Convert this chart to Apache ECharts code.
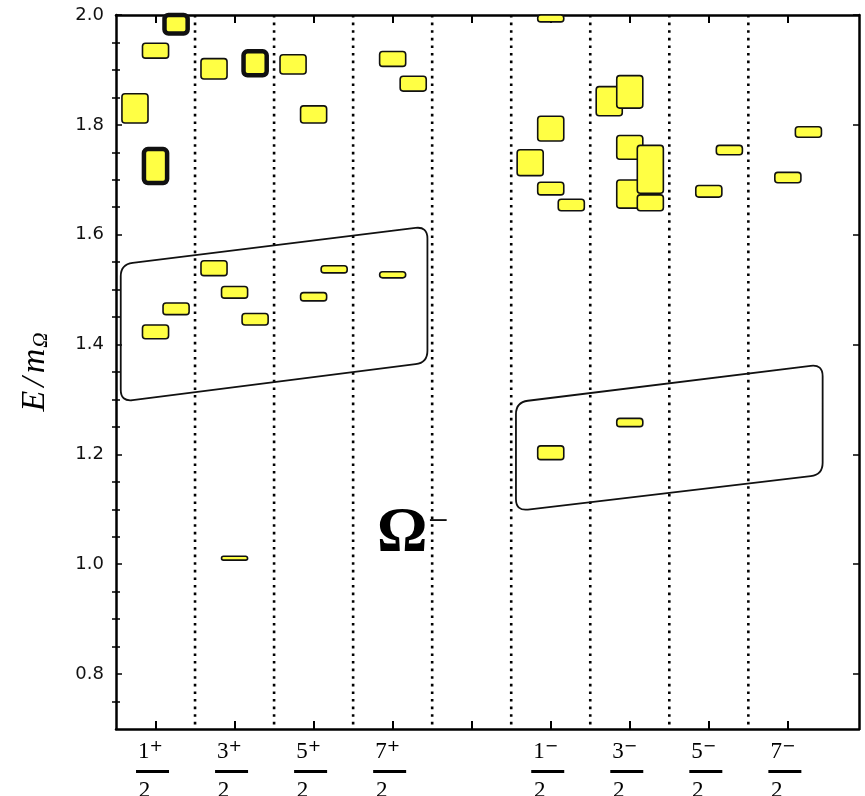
<!DOCTYPE html>
<html>
<head>
<meta charset="utf-8">
<script src="https://cdn.jsdelivr.net/npm/echarts@6/dist/echarts.min.js"></script>
<style>html,body{margin:0;padding:0;background:#fff}#c{width:865px;height:796px}</style>
</head>
<body>
<div id="c"></div>
<script>
// ---------- data ----------
const xTickPos   = [0.5, 1.5, 2.5, 3.5, 4.5, 5.5, 6.5, 7.5, 8.5];
const xLabelPos  = [0.5, 1.5, 2.5, 3.5, 5.5, 6.5, 7.5, 8.5];
const xLabelNum  = ['1', '3', '5', '7', '1', '3', '5', '7'];
const xLabelSign = ['+', '+', '+', '+', '−', '−', '−', '−'];
const xLabelDen  = '2';
const dividers   = [1, 2, 3, 4, 5, 6, 7, 8];
const yMajorTicks = [0.8, 1.0, 1.2, 1.4, 1.6, 1.8, 2.0];
const yMinorTicks = [0.75, 0.85, 0.9, 0.95, 1.05, 1.1, 1.15, 1.25, 1.3, 1.35,
                     1.45, 1.5, 1.55, 1.65, 1.7, 1.75, 1.85, 1.9, 1.95];

// energy levels: slot position, E/m_Omega, half-height (uncertainty), thick outline flag
const levelX     = [0.24, 0.5, 0.76, 0.5, 0.5, 0.76, 1.24, 1.76, 1.24, 1.5, 1.76, 1.5,
                    2.24, 2.5, 2.5, 2.76, 3.5, 3.76, 3.5,
                    5.5, 5.5, 5.24, 5.5, 5.76, 5.5, 6.24, 6.5, 6.5, 6.5, 6.76, 6.76, 6.5,
                    7.5, 7.76, 8.5, 8.76];
const levelE     = [1.830, 1.935, 1.985, 1.725, 1.423, 1.465, 1.902, 1.912, 1.539, 1.495, 1.446, 1.011,
                    1.910, 1.819, 1.487, 1.537, 1.920, 1.875, 1.527,
                    2.000, 1.793, 1.731, 1.684, 1.654, 1.203, 1.843, 1.860, 1.759, 1.674, 1.658, 1.719, 1.258,
                    1.679, 1.754, 1.704, 1.787];
const levelErr   = [0.028, 0.015, 0.023, 0.035, 0.014, 0.012, 0.020, 0.026, 0.015, 0.012, 0.012, 0.005,
                    0.019, 0.017, 0.009, 0.008, 0.015, 0.015, 0.007,
                    0.014, 0.024, 0.025, 0.013, 0.012, 0.014, 0.028, 0.031, 0.023, 0.027, 0.016, 0.045, 0.009,
                    0.012, 0.010, 0.011, 0.011];
const levelThick = [0, 0, 1, 1, 0, 0, 0, 1, 0, 0, 0, 0,
                    0, 0, 0, 0, 0, 0, 0,
                    0, 0, 0, 0, 0, 0, 0, 0, 0, 0, 0, 0, 0,
                    0, 0, 0, 0];

// bands (rounded parallelograms): left/right x, top edge E (left,right), bottom edge E (left,right)
const bandLeft     = [0.06, 5.06];
const bandRight    = [3.94, 8.94];
const bandTopL     = [1.546, 1.295];
const bandTopR     = [1.615, 1.364];
const bandBottomL  = [1.296, 1.097];
const bandBottomR  = [1.367, 1.163];

// ---------- chart ----------
const BOX_W = 0.35;
const chart = echarts.init(document.getElementById('c'), null, {renderer: 'canvas'});

const levelData = levelX.map((x, i) => [x, levelE[i], levelErr[i], levelThick[i]]);
const bandData = bandLeft.map((x, i) => [x, bandRight[i], bandTopL[i], bandTopR[i], bandBottomL[i], bandBottomR[i]]);
const dividerData = dividers.map(x => [x, 1.3]);

function roundedPath(pts, r) {
  const n = pts.length;
  let d = '';
  for (let i = 0; i < n; i++) {
    const p = pts[i], prev = pts[(i + n - 1) % n], next = pts[(i + 1) % n];
    const v1 = [prev[0] - p[0], prev[1] - p[1]], v2 = [next[0] - p[0], next[1] - p[1]];
    const l1 = Math.hypot(v1[0], v1[1]), l2 = Math.hypot(v2[0], v2[1]);
    const a = [p[0] + v1[0] / l1 * r, p[1] + v1[1] / l1 * r];
    const b = [p[0] + v2[0] / l2 * r, p[1] + v2[1] / l2 * r];
    d += (i === 0 ? 'M' : 'L') + a[0] + ' ' + a[1] + ' Q' + p[0] + ' ' + p[1] + ' ' + b[0] + ' ' + b[1] + ' ';
  }
  return d + 'Z';
}

const yCommon = {type: 'value', min: 0.7, max: 2.0, splitLine: {show: false}};
const xCommon = {type: 'value', min: 0, max: 9.4, splitLine: {show: false}};

chart.setOption({
  animation: false,
  backgroundColor: '#fff',
  grid: {left: 116, right: 6, top: 15, bottom: 67, containLabel: false, outerBoundsMode: 'none'},
  xAxis: [
    Object.assign({}, xCommon, {
      position: 'bottom',
      axisLine: {show: true, onZero: false, lineStyle: {color: '#000', width: 2.5}},
      axisTick: {show: true, inside: true, length: 8, customValues: xTickPos, lineStyle: {color: '#000', width: 2}},
      axisLabel: {
        show: true, margin: 10, customValues: xLabelPos, padding: [0, 6, 0, 0],
        formatter: function (v) {
          let i = xLabelPos.findIndex(p => Math.abs(p - v) < 1e-6);
          if (i < 0) return '';
          return '{n|' + xLabelNum[i] + '}{s|' + xLabelSign[i] + '}\n{b| }\n{d|' + xLabelDen + '}';
        },
        rich: {
          n: {fontFamily: '"Liberation Serif", serif', fontSize: 23, lineHeight: 24, color: '#000', verticalAlign: 'bottom'},
          s: {fontFamily: '"DejaVu Sans", sans-serif', fontSize: 16, lineHeight: 24, color: '#000', verticalAlign: 'top', padding: [0, 4, 0, 0]},
          b: {width: 33, height: 3, lineHeight: 17, backgroundColor: '#000', fontSize: 1},
          d: {fontFamily: '"Liberation Serif", serif', fontSize: 23, lineHeight: 22, color: '#000', padding: [0, 16, 0, 0]}
        }
      }
    }),
    Object.assign({}, xCommon, {
      position: 'top',
      axisLine: {show: true, onZero: false, lineStyle: {color: '#000', width: 2.5}},
      axisTick: {show: true, inside: true, length: 8, customValues: xTickPos, lineStyle: {color: '#000', width: 2}},
      axisLabel: {show: false}
    })
  ],
  yAxis: [
    Object.assign({}, yCommon, {
      position: 'left',
      name: '{e|E}{sl|/}{e|m}{s|Ω}',
      nameLocation: 'middle',
      nameRotate: 90,
      nameGap: 64,
      nameTextStyle: {
        rich: {
          e: {fontFamily: '"Liberation Serif", serif', fontStyle: 'italic', fontSize: 34, color: '#000'},
          sl: {fontFamily: '"Liberation Serif", serif', fontStyle: 'italic', fontSize: 34, color: '#000', padding: [0, 4, 0, 4]},
          s: {fontFamily: '"Liberation Serif", serif', fontStyle: 'italic', fontSize: 21, color: '#000', verticalAlign: 'bottom', padding: [13, 0, 0, 1]}
        }
      },
      axisLine: {show: true, onZero: false, lineStyle: {color: '#000', width: 2.5}},
      axisTick: {show: true, inside: true, length: 6, customValues: yMajorTicks, lineStyle: {color: '#000', width: 1.5}},
      axisLabel: {
        show: true, margin: 12, customValues: yMajorTicks,
        formatter: v => v.toFixed(1),
        fontFamily: '"DejaVu Sans", sans-serif', fontSize: 18, color: '#111'
      }
    }),
    Object.assign({}, yCommon, {
      position: 'left',
      axisLine: {show: false},
      axisTick: {show: true, inside: true, length: 4, customValues: yMinorTicks, lineStyle: {color: '#000', width: 1.5}},
      axisLabel: {show: false}
    }),
    Object.assign({}, yCommon, {
      position: 'right',
      axisLine: {show: true, onZero: false, lineStyle: {color: '#000', width: 2.5}},
      axisTick: {show: true, inside: true, length: 6, customValues: yMajorTicks, lineStyle: {color: '#000', width: 1.5}},
      axisLabel: {show: false}
    }),
    Object.assign({}, yCommon, {
      position: 'right',
      axisLine: {show: false},
      axisTick: {show: true, inside: true, length: 4, customValues: yMinorTicks, lineStyle: {color: '#000', width: 1.5}},
      axisLabel: {show: false}
    })
  ],
  series: [
    {
      type: 'custom', name: 'dividers', xAxisIndex: 0, yAxisIndex: 0, z: 1,
      data: dividerData,
      renderItem: function (params, api) {
        const x = api.value(0);
        const p1 = api.coord([x, 2.0]);
        const p2 = api.coord([x, 0.7]);
        return {type: 'line', shape: {x1: p1[0], y1: p1[1], x2: p2[0], y2: p2[1]},
                style: {stroke: '#000', lineWidth: 2.6, lineDash: [2.6, 5]}};
      }
    },
    {
      type: 'custom', name: 'bands', xAxisIndex: 0, yAxisIndex: 0, z: 2,
      data: bandData,
      renderItem: function (params, api) {
        const x0 = api.value(0), x1 = api.value(1);
        const pts = [
          api.coord([x0, api.value(2)]),
          api.coord([x1, api.value(3)]),
          api.coord([x1, api.value(5)]),
          api.coord([x0, api.value(4)])
        ];
        return {type: 'path', shape: {pathData: roundedPath(pts, 12)},
                style: {fill: 'none', stroke: '#111', lineWidth: 1.8}};
      }
    },
    {
      type: 'custom', name: 'levels', xAxisIndex: 0, yAxisIndex: 0, z: 3,
      data: levelData,
      renderItem: function (params, api) {
        const x = api.value(0), e = api.value(1), err = api.value(2), thick = api.value(3);
        const lw = thick ? 4.5 : 1.6;
        const p1 = api.coord([x - BOX_W / 2, e + err]);
        const p2 = api.coord([x + BOX_W / 2, e - err]);
        const rect = {x: p1[0] + lw / 2, y: p1[1] + lw / 2,
                      width: p2[0] - p1[0] - lw, height: p2[1] - p1[1] - lw};
        const cs = params.coordSys;
        const clipped = echarts.graphic.clipRectByRect(rect, {x: cs.x, y: cs.y, width: cs.width, height: cs.height});
        if (!clipped) return null;
        return {type: 'rect', shape: {x: clipped.x, y: clipped.y, width: clipped.width, height: clipped.height, r: thick ? 4 : 3},
                style: {fill: '#ffff44', stroke: '#111', lineWidth: lw}};
      }
    }
  ],
  graphic: [
    {type: 'text', left: 377, top: 503, z: 10,
     style: {text: 'Ω', font: 'bold 63px "Liberation Serif", serif', fill: '#000'}},
    {type: 'text', left: 428, top: 505, z: 10,
     style: {text: '−', font: '36px "Liberation Serif", serif', fill: '#000'}}
  ]
});
</script>
</body>
</html>
